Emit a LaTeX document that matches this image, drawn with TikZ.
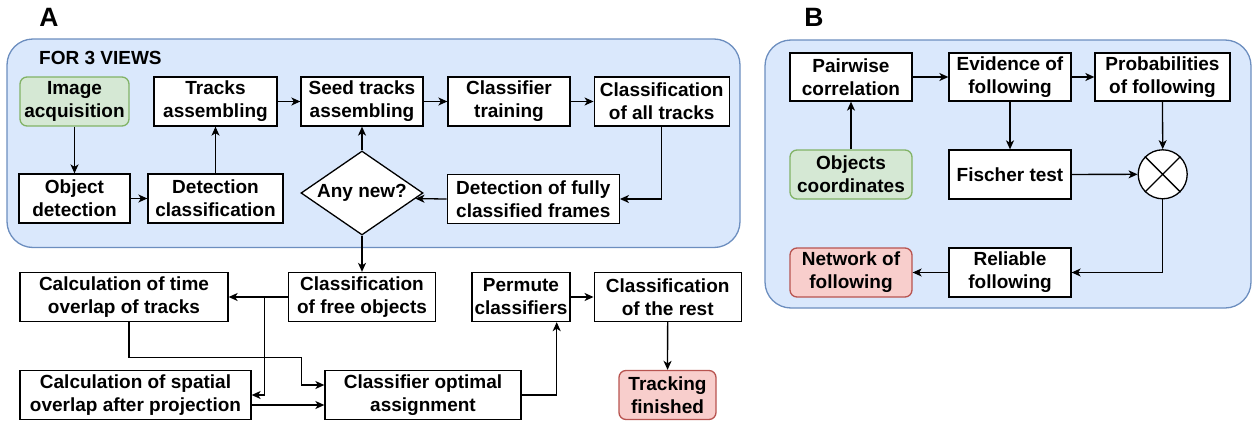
\documentclass[tikz,border=0pt]{standalone}
\usepackage{fontspec}
\setmainfont{Liberation Sans}
\usetikzlibrary{arrows.meta,shapes.geometric}
\definecolor{panelfill}{HTML}{DAE8FC}
\definecolor{panelline}{HTML}{6C8EBF}
\definecolor{greenfill}{HTML}{D5E8D4}
\definecolor{greenline}{HTML}{82B366}
\definecolor{redfill}{HTML}{F8CECC}
\definecolor{redline}{HTML}{B85450}
\tikzset{
  every node/.style={font=\fontsize{19}{23}\selectfont\bfseries},
  box/.style={draw, fill=white, line width=1.3pt, inner sep=0pt, align=center, minimum height=49pt},
  greenbox/.style={box, fill=greenfill, draw=greenline, rounded corners=7pt},
  redbox/.style={box, fill=redfill, draw=redline, rounded corners=7pt},
  panel/.style={draw=panelline, fill=panelfill, line width=1.3pt, rounded corners=26pt},
  arr/.style={line width=1.3pt, -{Stealth[length=9pt,width=8pt,inset=2.5pt]}},
  plabel/.style={font=\fontsize{26.5}{30}\selectfont\bfseries, inner sep=0pt}
}
\begin{document}
\begin{tikzpicture}[x=1pt,y=-1pt]
\useasboundingbox (0,0) rectangle (1253,423);
% panels
\draw[panel] (7,39) rectangle (740,247.5);
\draw[panel] (765,40) rectangle (1251,308);
\node[plabel] (labA) at (49,17) {A};
\node[plabel] (labB) at (814,17) {B};
\node[inner sep=0pt, anchor=west] (views) at (39,58) {FOR 3 VIEWS};
% panel A upper
\node[greenbox, minimum width=109pt] (ia) at (74.5,101.5) {Image\\acquisition};
\node[box, minimum width=123pt] (ta) at (215.5,101.5) {Tracks\\assembling};
\node[box, minimum width=122pt] (st) at (362,101.5) {Seed tracks\\assembling};
\node[box, minimum width=122pt] (ct) at (509,101.5) {Classifier\\training};
\node[box, minimum width=135pt] (ca) at (661.7,101.5) {Classification\\of all tracks};
\node[box, minimum width=111pt] (od) at (74.5,198.5) {Object\\detection};
\node[box, minimum width=135pt] (dc) at (215.5,198.5) {Detection\\classification};
\node[draw, fill=white, line width=1.3pt, diamond, aspect=1.45, minimum width=122pt, minimum height=84pt, inner sep=0pt] (an) at (362,193) {Any new?};
\node[box, minimum width=172pt] (df) at (533.3,199) {Detection of fully\\classified frames};
% panel A lower
\node[box, minimum width=208pt] (tov) at (124,297) {Calculation of time\\overlap of tracks};
\node[box, minimum width=147pt] (fo) at (362,297) {Classification\\of free objects};
\node[box, minimum width=231pt] (sp) at (135.5,395) {Calculation of spatial\\overlap after projection};
\node[box, minimum width=196pt] (opt) at (423,395) {Classifier optimal\\assignment};
\node[box, minimum width=98pt] (pc) at (521,297) {Permute\\classifiers};
\node[box, minimum width=147pt] (cr) at (667.7,297) {Classification\\of the rest};
\node[redbox, minimum width=97pt] (tf) at (667.5,395) {Tracking\\finished};
% panel B
\node[box, minimum width=122pt, minimum height=48pt] (pw) at (851,77) {Pairwise\\correlation};
\node[box, minimum width=122pt, minimum height=48pt] (ev) at (1010,77) {Evidence of\\following};
\node[box, minimum width=135pt, minimum height=48pt] (pr) at (1162.5,77) {Probabilities\\of following};
\node[greenbox, minimum width=122pt] (oc) at (851,174.5) {Objects\\coordinates};
\node[box, minimum width=122pt] (fi) at (1010,174.5) {Fischer test};
\node[circle, draw, fill=white, line width=1.3pt, minimum size=49pt, inner sep=0pt] (mx) at (1162.7,174.3) {};
\draw[line width=1.3pt] (mx.45) -- (mx.225) (mx.135) -- (mx.315);
\node[redbox, minimum width=122pt] (nw) at (851,272.5) {Network of\\following};
\node[box, minimum width=122pt] (rf) at (1010,272.5) {Reliable\\following};
% arrows A upper
\draw[arr] (ia) -- (od);
\draw[arr] (od) -- (dc);
\draw[arr] (dc) -- (ta);
\draw[arr] (ta) -- (st);
\draw[arr] (an) -- (st);
\draw[arr] (st) -- (ct);
\draw[arr] (ct) -- (ca);
\draw[arr] (ca.south) |- (df.east);
\draw[arr] (df.west) -- (an.-6.5);
% arrows A lower
\draw[arr] (an.south) -- (fo.north);
\draw[arr] (fo.west) -- (tov.east);
\coordinate (br) at (264.3,297);
\draw[arr] (br) |- (sp.east);
\coordinate (tb) at (301.7,357.7);
\draw[arr] ([xshift=5pt]tov.south) |- (tb) |- ([yshift=10pt]opt.west);
\draw[arr] ([yshift=-10pt]sp.east) -- ([yshift=-10pt]opt.west);
\draw[arr] (opt.east) -| ([xshift=35.7pt]pc.south);
\draw[arr] (pc) -- (cr);
\draw[arr] (cr) -- (tf);
% arrows B
\draw[arr] (oc) -- (pw);
\draw[arr] (pw) -- (ev);
\draw[arr] (ev) -- (pr);
\draw[arr] (ev) -- (fi);
\draw[arr] (pr.south) -- (mx.north);
\draw[arr] (fi) -- (mx);
\draw[arr] (mx.south) |- (rf.east);
\draw[arr] (rf) -- (nw);
\end{tikzpicture}
\end{document}
